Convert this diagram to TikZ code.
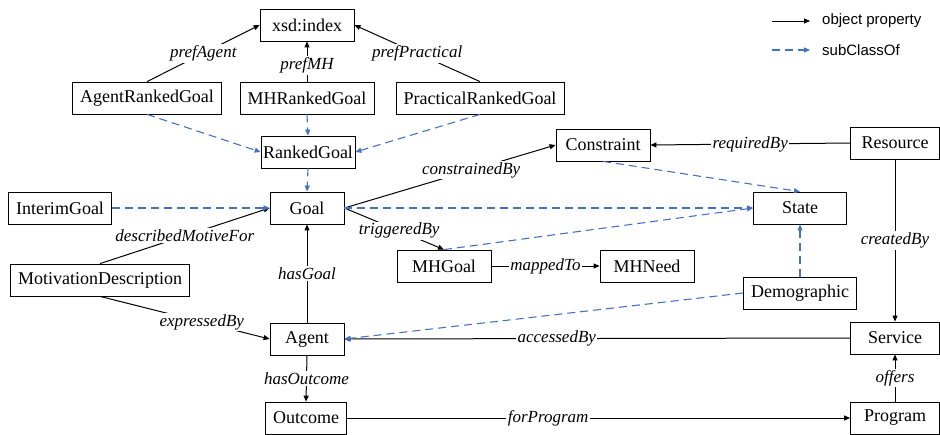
\documentclass[tikz,border=0pt]{standalone}
\usepackage{fontspec}
\setmainfont{Liberation Serif}
\setsansfont{Liberation Sans}
\usepackage{tikz}
\usetikzlibrary{arrows.meta}
\definecolor{SubBlue}{rgb}{0.27,0.45,0.77}
\newcommand\rel[1]{\textit{#1}}

\begin{document}
\begin{tikzpicture}[x=1pt,y=-1pt,
  cls/.style={draw,line width=0.8pt,inner xsep=7.5pt,minimum height=32pt,font=\fontsize{18}{20}\selectfont},
  prop/.style={-{Triangle[length=6pt,width=5pt]},line width=1pt},
  sub/.style={-{Triangle[length=6pt,width=5pt]},SubBlue,dash pattern=on 8pt off 5pt,line width=1.1pt},
  lbl/.style={fill=white,inner sep=1.5pt,font=\fontsize{17}{19}\selectfont\itshape},
  legend/.style={anchor=west,inner sep=0pt,font=\fontsize{15}{17}\selectfont\sffamily}]
\useasboundingbox (0,0) rectangle (940,434);
% classes
\node[cls,minimum width=94pt] (idx) at (307,25) {xsd:index};
\node[cls] (ARG) at (147,98) {AgentRankedGoal};
\node[cls] (MHRG) at (307,98) {MHRankedGoal};
\node[cls] (PRG) at (480,98) {PracticalRankedGoal};
\node[cls,inner xsep=2pt,minimum width=94pt] (RG) at (308,152) {RankedGoal};
\node[cls,minimum width=74pt] (G) at (307,208) {Goal};
\node[cls] (IG) at (60,208) {InterimGoal};
\node[cls,minimum width=94pt] (C) at (603,145) {Constraint};
\node[cls,minimum width=89pt] (Res) at (895,143) {Resource};
\node[cls,minimum width=93pt] (St) at (800,208) {State};
\node[cls] (MD) at (100,280) {MotivationDescription};
\node[cls,minimum width=94pt] (MHG) at (444,266) {MHGoal};
\node[cls,minimum width=94pt] (MHN) at (647,266) {MHNeed};
\node[cls] (Dem) at (800,293) {Demographic};
\node[cls,minimum width=74pt] (A) at (307,339) {Agent};
\node[cls,minimum width=89pt] (Srv) at (895,338) {Service};
\node[cls,minimum width=74pt] (Out) at (306,418) {Outcome};
\node[cls,minimum width=89pt] (Prg) at (895,418) {Program};
% object properties
\draw[prop] (ARG.north) -- node[lbl] {prefAgent} (idx.west);
\draw[prop] (MHRG.north) -- node[lbl,pos=0.4] {prefMH} (idx.south);
\draw[prop] (PRG.north) -- node[lbl] {prefPractical} (idx.east);
\draw[prop] (G.east) -- node[lbl,pos=0.6] {constrainedBy} (C.west);
\draw[prop] (G.east) -- node[lbl,pos=0.55] {triggeredBy} (MHG.north);
\draw[prop] (MHG.east) -- node[lbl] {mappedTo} (MHN.west);
\draw[prop] (Res.west) -- node[lbl] {requiredBy} (C.east);
\draw[prop] (Res.south) -- node[lbl] {createdBy} (Srv.north);
\draw[prop] (Prg.north) -- node[lbl] {offers} (Srv.south);
\draw[prop] (Srv.west) -- node[lbl,pos=0.58] {accessedBy} (A.east);
\draw[prop] (Out.east) -- node[lbl,pos=0.4] {forProgram} (Prg.west);
\draw[prop] (A.north) -- node[lbl] {hasGoal} (G.south);
\draw[prop] (A.south) -- node[lbl] {hasOutcome} (Out.north);
\draw[prop] (MD.north) -- node[lbl] {describedMotiveFor} (G.west);
\draw[prop] (MD.south) -- node[lbl,pos=0.6] {expressedBy} (A.west);
% subClassOf
\draw[sub] (ARG.south) -- (RG.west);
\draw[sub] (MHRG.south) -- (RG.north);
\draw[sub] (PRG.south) -- (RG.east);
\draw[sub] (RG.south) -- (G.north);
\draw[sub] (IG.east) -- (G.west);
\draw[sub] (G.east) -- (St.west);
\draw[sub] (MHG.north) -- (St.west);
\draw[sub] (C.south) -- (St.north);
\draw[sub] (Dem.north) -- (St.south);
\draw[sub] (Dem.west) -- (A.east);
% legend
\node[legend] (legObj) at (822,21) {object property};
\node[legend] (legSub) at (822,50) {subClassOf};
\coordinate (legObjA) at (772,21);
\coordinate (legSubA) at (772,50);
\draw[prop] (legObjA) -- ([xshift=-12pt]legObj.west);
\draw[sub] (legSubA) -- ([xshift=-12pt]legSub.west);
\end{tikzpicture}
\end{document}
